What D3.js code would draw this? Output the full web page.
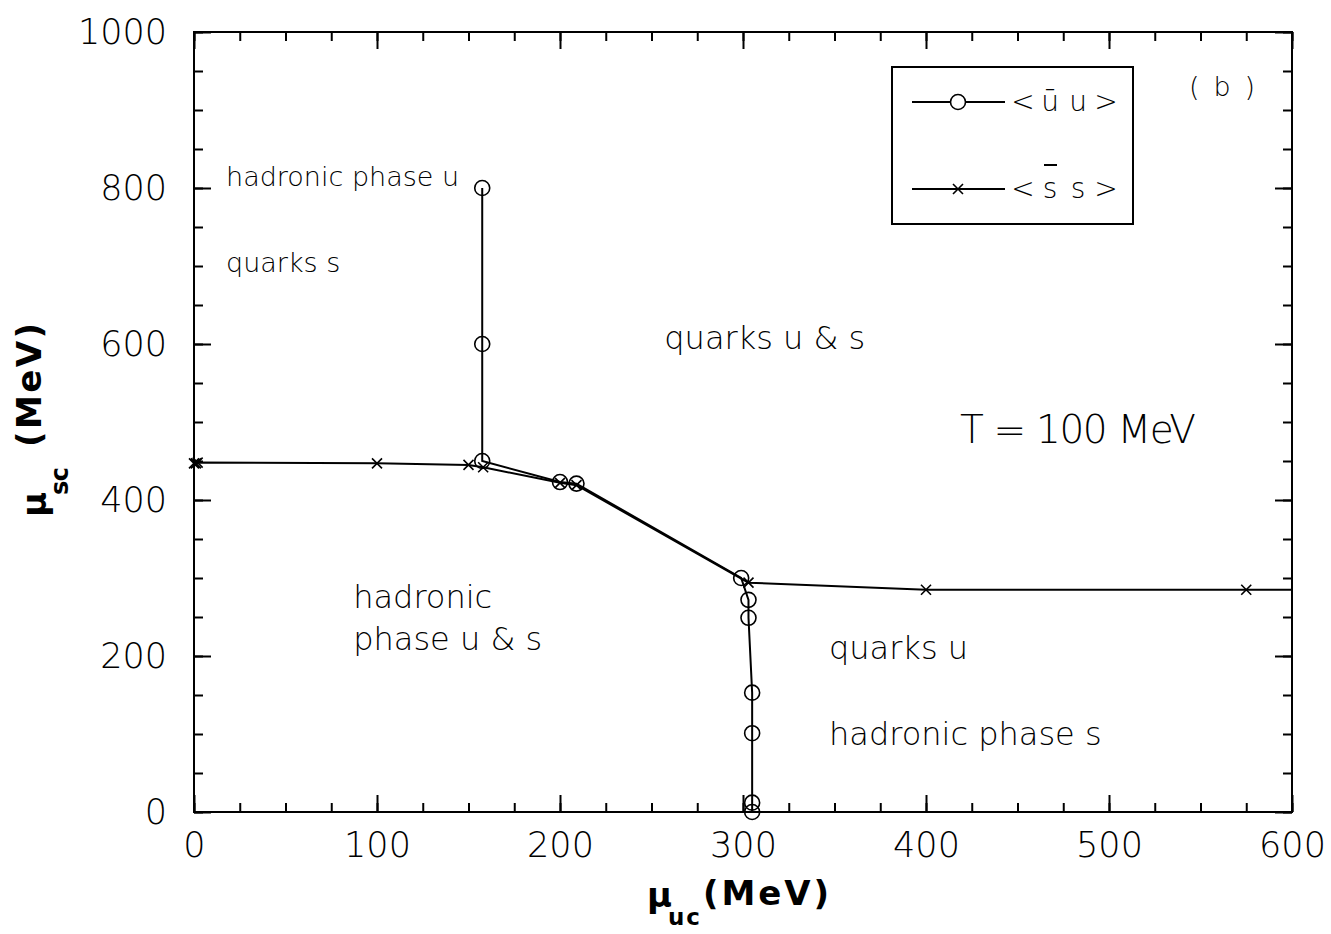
<!DOCTYPE html>
<html>
<head>
<meta charset="utf-8">
<script src="https://cdn.jsdelivr.net/npm/d3@7"></script>
<style>
  html, body { margin: 0; padding: 0; background: #fff; }
  svg { display: block; }
  .thin { font-family: "DejaVu Sans ExtraLight", "DejaVu Sans", sans-serif; font-weight: 200; fill: #000; }
  .bold { font-family: "DejaVu Sans", sans-serif; font-weight: bold; fill: #000; }
</style>
</head>
<body>
<svg id="chart" width="1331" height="934"></svg>
<script>
// Chiral condensate transition lines, T = 100 MeV
// <ū u> line (circles): mu_uc, mu_sc in MeV
const uX = [157.5, 157.5, 157.5, 200, 209, 299, 303, 303, 305, 305, 305, 305];
const uY = [800, 600, 450, 423, 421, 300, 272, 249, 153, 101, 12, 0];
// <s̄ s> line (crosses)
const sX = [0, 1, 2, 100, 150, 158, 200, 209, 303, 400, 575, 600];
const sY = [447, 447, 448, 447, 445, 442, 422, 419, 294, 285, 285, 285];

const xMajor = [0, 100, 200, 300, 400, 500, 600];
const yMajor = [0, 200, 400, 600, 800, 1000];

// Phase-region annotations: text, position (mu_uc, mu_sc) and font size
const regionText = ["hadronic phase u", "quarks s", "quarks u & s", "hadronic", "phase u & s", "quarks u", "hadronic phase s"];
const regionU = [17.5, 17.5, 257, 87, 87, 347, 347];
const regionS = [802, 692, 593, 262, 208, 196, 86];
const regionSize = [27, 27, 32, 32, 32, 32, 32];

const svg = d3.select("#chart");
const x = d3.scaleLinear().domain([0, 600]).range([194, 1292]);
const y = d3.scaleLinear().domain([0, 1000]).range([812, 32]);

// frame
svg.append("rect")
  .attr("x", x(0)).attr("y", y(1000))
  .attr("width", x(600) - x(0)).attr("height", y(0) - y(1000))
  .attr("fill", "none").attr("stroke", "#000").attr("stroke-width", 2);

const xMinor = d3.range(0, 601, 25);
const yMinor = d3.range(0, 1001, 50);

function styleAxis(g) {
  g.select(".domain").remove();
  g.selectAll(".tick line").attr("stroke", "#000").attr("stroke-width", 2);
}

// inward ticks on all four sides
svg.append("g").attr("transform", `translate(0,${y(0)})`)
  .call(d3.axisBottom(x).tickValues(xMinor).tickSize(-9).tickFormat(""))
  .call(styleAxis);
svg.append("g").attr("transform", `translate(0,${y(0)})`)
  .call(d3.axisBottom(x).tickValues(xMajor).tickSize(-17).tickPadding(20).tickFormat(d3.format("d")))
  .call(styleAxis)
  .call(g => g.selectAll("text").attr("class", "thin").attr("font-size", 35).attr("fill", "#000"));
svg.append("g").attr("transform", `translate(0,${y(1000)})`)
  .call(d3.axisTop(x).tickValues(xMinor).tickSize(-9).tickFormat(""))
  .call(styleAxis);
svg.append("g").attr("transform", `translate(0,${y(1000)})`)
  .call(d3.axisTop(x).tickValues(xMajor).tickSize(-17).tickFormat(""))
  .call(styleAxis);

svg.append("g").attr("transform", `translate(${x(0)},0)`)
  .call(d3.axisLeft(y).tickValues(yMinor).tickSize(-9).tickFormat(""))
  .call(styleAxis);
svg.append("g").attr("transform", `translate(${x(0)},0)`)
  .call(d3.axisLeft(y).tickValues(yMajor).tickSize(-17).tickPadding(27).tickFormat(d3.format("d")))
  .call(styleAxis)
  .call(g => g.selectAll("text").attr("class", "thin").attr("font-size", 35).attr("fill", "#000"));
svg.append("g").attr("transform", `translate(${x(600)},0)`)
  .call(d3.axisRight(y).tickValues(yMinor).tickSize(-9).tickFormat(""))
  .call(styleAxis);
svg.append("g").attr("transform", `translate(${x(600)},0)`)
  .call(d3.axisRight(y).tickValues(yMajor).tickSize(-17).tickFormat(""))
  .call(styleAxis);

// series
const line = d3.line().x(d => x(d[0])).y(d => y(d[1]));
const uPts = uX.map((v, i) => [v, uY[i]]);
const sPts = sX.map((v, i) => [v, sY[i]]);

svg.append("path").datum(sPts).attr("d", line)
  .attr("fill", "none").attr("stroke", "#000").attr("stroke-width", 2);
svg.append("path").datum(uPts).attr("d", line)
  .attr("fill", "none").attr("stroke", "#000").attr("stroke-width", 2);

function cross(g, cx, cy) {
  g.append("path")
    .attr("d", `M${cx - 5},${cy - 5}L${cx + 5},${cy + 5}M${cx - 5},${cy + 5}L${cx + 5},${cy - 5}`)
    .attr("stroke", "#000").attr("stroke-width", 1.6).attr("fill", "none");
}
// markers inside the frame only (the last point sits on the right border)
const sMarks = svg.append("g");
sPts.filter(d => d[0] < 600).forEach(d => cross(sMarks, x(d[0]), y(d[1])));

svg.append("g").selectAll("circle").data(uPts).join("circle")
  .attr("cx", d => x(d[0])).attr("cy", d => y(d[1])).attr("r", 7.5)
  .attr("fill", "none").attr("stroke", "#000").attr("stroke-width", 1.6);

// region labels
svg.append("g").selectAll("text").data(regionText).join("text")
  .attr("class", "thin").attr("font-size", (d, i) => regionSize[i])
  .attr("x", (d, i) => x(regionU[i])).attr("y", (d, i) => y(regionS[i]))
  .text(d => d);

svg.append("text").attr("class", "thin").attr("font-size", 39)
  .attr("x", 960).attr("y", 443).attr("textLength", 236).attr("lengthAdjust", "spacing")
  .text("T = 100 MeV");

svg.append("text").attr("class", "thin").attr("font-size", 27)
  .attr("x", 1189).attr("y", 96).attr("textLength", 66).attr("lengthAdjust", "spacing")
  .text("( b )");

// legend
const lg = svg.append("g");
lg.append("rect").attr("x", 892).attr("y", 67).attr("width", 241).attr("height", 157)
  .attr("fill", "#fff").attr("stroke", "#000").attr("stroke-width", 2);
lg.append("line").attr("x1", 912).attr("x2", 1005).attr("y1", 102).attr("y2", 102)
  .attr("stroke", "#000").attr("stroke-width", 2);
lg.append("circle").attr("cx", 958).attr("cy", 102).attr("r", 7.5)
  .attr("fill", "#fff").attr("stroke", "#000").attr("stroke-width", 1.6);
lg.append("line").attr("x1", 912).attr("x2", 1005).attr("y1", 189).attr("y2", 189)
  .attr("stroke", "#000").attr("stroke-width", 2);
cross(lg, 958, 189);

const glyphX = [1023, 1050, 1078, 1106];
lg.append("g").selectAll("text").data(["<", "\u016B", "u", ">"]).join("text")
  .attr("class", "thin").attr("font-size", 28).attr("text-anchor", "middle")
  .attr("x", (d, i) => glyphX[i]).attr("y", 111).text(d => d);
lg.append("g").selectAll("text").data(["<", "s", "s", ">"]).join("text")
  .attr("class", "thin").attr("font-size", 28).attr("text-anchor", "middle")
  .attr("x", (d, i) => glyphX[i]).attr("y", 198).text(d => d);
lg.append("line").attr("x1", 1044).attr("x2", 1057).attr("y1", 165).attr("y2", 165)
  .attr("stroke", "#000").attr("stroke-width", 2);

// axis titles
svg.append("text").attr("class", "bold").attr("font-size", 34).attr("x", 647).attr("y", 907).text("\u03BC");
svg.append("text").attr("class", "bold").attr("font-size", 23).attr("x", 668).attr("y", 925)
  .attr("textLength", 32).text("uc");
svg.append("text").attr("class", "bold").attr("font-size", 34).attr("x", 703).attr("y", 905)
  .attr("textLength", 126).text("(MeV)");

svg.append("text").attr("class", "bold").attr("font-size", 34)
  .attr("transform", "translate(46,517) rotate(-90)").text("\u03BC");
svg.append("text").attr("class", "bold").attr("font-size", 24)
  .attr("transform", "translate(68,495) rotate(-90)").attr("textLength", 28).text("sc");
svg.append("text").attr("class", "bold").attr("font-size", 34)
  .attr("transform", "translate(41,447) rotate(-90)").attr("textLength", 124).text("(MeV)");
</script>
</body>
</html>
